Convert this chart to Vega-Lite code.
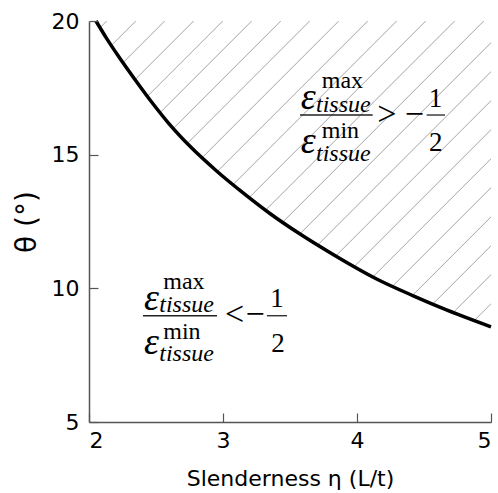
{
  "$schema": "https://vega.github.io/schema/vega-lite/v6.json",
  "width": 402,
  "height": 401,
  "autosize": "none",
  "padding": {"left": 89, "top": 21, "right": 7, "bottom": 71},
  "background": "white",
  "config": {
    "view": {"stroke": null},
    "axis": {
      "zindex": 1,
      "grid": false,
      "domainColor": "#555555",
      "domainWidth": 1.5,
      "tickColor": "#555555",
      "tickWidth": 1.2,
      "labelFont": "DejaVu Sans",
      "labelFontSize": 22,
      "labelColor": "black",
      "titleFont": "DejaVu Sans",
      "titleFontSize": 22,
      "titleFontWeight": "normal",
      "titleColor": "black"
    }
  },
  "datasets": {
    "hatch": [
      {"x1": -0.860, "y1": 5, "x2": 2.132, "y2": 20},
      {"x1": -0.643, "y1": 5, "x2": 2.349, "y2": 20},
      {"x1": -0.427, "y1": 5, "x2": 2.565, "y2": 20},
      {"x1": -0.211, "y1": 5, "x2": 2.781, "y2": 20},
      {"x1": 0.006, "y1": 5, "x2": 2.998, "y2": 20},
      {"x1": 0.222, "y1": 5, "x2": 3.214, "y2": 20},
      {"x1": 0.439, "y1": 5, "x2": 3.431, "y2": 20},
      {"x1": 0.655, "y1": 5, "x2": 3.647, "y2": 20},
      {"x1": 0.872, "y1": 5, "x2": 3.864, "y2": 20},
      {"x1": 1.088, "y1": 5, "x2": 4.080, "y2": 20},
      {"x1": 1.304, "y1": 5, "x2": 4.296, "y2": 20},
      {"x1": 1.521, "y1": 5, "x2": 4.513, "y2": 20},
      {"x1": 1.737, "y1": 5, "x2": 4.729, "y2": 20},
      {"x1": 1.954, "y1": 5, "x2": 4.946, "y2": 20},
      {"x1": 2.170, "y1": 5, "x2": 5.162, "y2": 20},
      {"x1": 2.386, "y1": 5, "x2": 5.378, "y2": 20},
      {"x1": 2.603, "y1": 5, "x2": 5.595, "y2": 20},
      {"x1": 2.819, "y1": 5, "x2": 5.811, "y2": 20},
      {"x1": 3.036, "y1": 5, "x2": 6.028, "y2": 20},
      {"x1": 3.252, "y1": 5, "x2": 6.244, "y2": 20},
      {"x1": 3.469, "y1": 5, "x2": 6.461, "y2": 20},
      {"x1": 3.685, "y1": 5, "x2": 6.677, "y2": 20},
      {"x1": 3.901, "y1": 5, "x2": 6.893, "y2": 20},
      {"x1": 4.118, "y1": 5, "x2": 7.110, "y2": 20},
      {"x1": 4.334, "y1": 5, "x2": 7.326, "y2": 20}
    ],
    "curve": [
      {"eta": 2.052, "theta": 20.0},
      {"eta": 2.13, "theta": 19.36},
      {"eta": 2.22, "theta": 18.68},
      {"eta": 2.34, "theta": 17.83},
      {"eta": 2.47, "theta": 16.95},
      {"eta": 2.59, "theta": 16.2},
      {"eta": 2.75, "theta": 15.33},
      {"eta": 2.95, "theta": 14.40},
      {"eta": 3.15, "theta": 13.57},
      {"eta": 3.35, "theta": 12.8},
      {"eta": 3.575, "theta": 12.03},
      {"eta": 3.8, "theta": 11.33},
      {"eta": 4.15, "theta": 10.34},
      {"eta": 4.42, "theta": 9.72},
      {"eta": 4.64, "theta": 9.25},
      {"eta": 5.0, "theta": 8.56}
    ],
    "mask": [
      {"eta": 2.0, "theta": 20.0},
      {"eta": 2.052, "theta": 20.0},
      {"eta": 2.13, "theta": 19.36},
      {"eta": 2.22, "theta": 18.68},
      {"eta": 2.34, "theta": 17.83},
      {"eta": 2.47, "theta": 16.95},
      {"eta": 2.59, "theta": 16.2},
      {"eta": 2.75, "theta": 15.33},
      {"eta": 2.95, "theta": 14.40},
      {"eta": 3.15, "theta": 13.57},
      {"eta": 3.35, "theta": 12.8},
      {"eta": 3.575, "theta": 12.03},
      {"eta": 3.8, "theta": 11.33},
      {"eta": 4.15, "theta": 10.34},
      {"eta": 4.42, "theta": 9.72},
      {"eta": 4.64, "theta": 9.25},
      {"eta": 5.0, "theta": 8.56}
    ],
    "bars": [
      {"group": "upper", "x": 3.575, "x2": 4.117, "y": 16.483},
      {"group": "upper", "x": 4.520, "x2": 4.657, "y": 16.483},
      {"group": "lower", "x": 2.403, "x2": 2.955, "y": 8.975},
      {"group": "lower", "x": 3.328, "x2": 3.478, "y": 8.975}
    ],
    "labels": [
      {"group": "upper", "role": "eps", "x": 3.580, "y": 16.71, "text": "ε"},
      {"group": "upper", "role": "sup", "x": 3.737, "y": 17.49, "text": "max"},
      {"group": "upper", "role": "sub", "x": 3.694, "y": 16.61, "text": "tissue"},
      {"group": "upper", "role": "sup", "x": 3.737, "y": 15.62, "text": "min"},
      {"group": "upper", "role": "eps", "x": 3.580, "y": 15.06, "text": "ε"},
      {"group": "upper", "role": "sub", "x": 3.694, "y": 14.78, "text": "tissue"},
      {"group": "upper", "role": "op", "x": 4.222, "y": 16.12, "text": ">"},
      {"group": "upper", "role": "op", "x": 4.428, "y": 16.12, "text": "−"},
      {"group": "upper", "role": "digit", "x": 4.585, "y": 16.80, "text": "1"},
      {"group": "upper", "role": "digit", "x": 4.588, "y": 15.12, "text": "2"},
      {"group": "lower", "role": "eps", "x": 2.411, "y": 9.20, "text": "ε"},
      {"group": "lower", "role": "sup", "x": 2.554, "y": 9.99, "text": "max"},
      {"group": "lower", "role": "sub", "x": 2.524, "y": 9.10, "text": "tissue"},
      {"group": "lower", "role": "sup", "x": 2.554, "y": 8.12, "text": "min"},
      {"group": "lower", "role": "eps", "x": 2.411, "y": 7.55, "text": "ε"},
      {"group": "lower", "role": "sub", "x": 2.524, "y": 7.27, "text": "tissue"},
      {"group": "lower", "role": "op", "x": 3.086, "y": 8.62, "text": "<"},
      {"group": "lower", "role": "op", "x": 3.239, "y": 8.62, "text": "−"},
      {"group": "lower", "role": "digit", "x": 3.403, "y": 9.30, "text": "1"},
      {"group": "lower", "role": "digit", "x": 3.410, "y": 7.62, "text": "2"}
    ]
  },
  "layer": [
    {
      "data": {"name": "hatch"},
      "mark": {"type": "rule", "clip": true, "color": "#9a9a9a", "strokeWidth": 0.9},
      "encoding": {
        "x": {
          "field": "x1", "type": "quantitative",
          "scale": {"domain": [2, 5], "nice": false, "zero": false},
          "axis": {
            "orient": "bottom",
            "zindex": 2,
            "grid": false,
            "title": "Slenderness η (L/t)",
            "values": [2, 3, 4, 5],
            "format": "d",
            "tickSize": -9,
            "labelPadding": 17,
            "titlePadding": 17
          }
        },
        "y": {
          "field": "y1", "type": "quantitative",
          "scale": {"domain": [5, 20], "nice": false, "zero": false},
          "axis": {
            "orient": "left",
            "zindex": 2,
            "grid": false,
            "title": "θ (°)",
            "titleFontSize": 28,
            "values": [5, 10, 15, 20],
            "format": "d",
            "tickSize": -9,
            "labelPadding": 19,
            "titlePadding": 10
          }
        },
        "x2": {"field": "x2"},
        "y2": {"field": "y2"}
      }
    },
    {
      "data": {"name": "mask"},
      "mark": {"type": "area", "clip": true, "color": "white", "opacity": 1, "interpolate": "monotone"},
      "encoding": {
        "x": {"field": "eta", "type": "quantitative"},
        "y": {"field": "theta", "type": "quantitative"},
        "y2": {"datum": 5}
      }
    },
    {
      "data": {"name": "curve"},
      "mark": {"type": "line", "color": "black", "strokeWidth": 3.5, "interpolate": "monotone"},
      "encoding": {
        "x": {"field": "eta", "type": "quantitative"},
        "y": {"field": "theta", "type": "quantitative"}
      }
    },
    {
      "data": {"name": "bars"},
      "mark": {"type": "rule", "color": "#222222", "strokeWidth": 1.3},
      "encoding": {
        "x": {"field": "x", "type": "quantitative"},
        "x2": {"field": "x2"},
        "y": {"field": "y", "type": "quantitative"}
      }
    },
    {
      "data": {"name": "labels"},
      "transform": [{"filter": "datum.role === 'eps'"}],
      "mark": {"type": "text", "font": "Liberation Serif", "fontStyle": "italic", "fontSize": 38, "align": "left", "baseline": "alphabetic", "color": "black"},
      "encoding": {
        "x": {"field": "x", "type": "quantitative"},
        "y": {"field": "y", "type": "quantitative"},
        "text": {"field": "text"}
      }
    },
    {
      "data": {"name": "labels"},
      "transform": [{"filter": "datum.role === 'sup'"}],
      "mark": {"type": "text", "font": "Liberation Serif", "fontSize": 24, "align": "left", "baseline": "alphabetic", "color": "black"},
      "encoding": {
        "x": {"field": "x", "type": "quantitative"},
        "y": {"field": "y", "type": "quantitative"},
        "text": {"field": "text"}
      }
    },
    {
      "data": {"name": "labels"},
      "transform": [{"filter": "datum.role === 'sub'"}],
      "mark": {"type": "text", "font": "Liberation Serif", "fontStyle": "italic", "fontSize": 24, "align": "left", "baseline": "alphabetic", "color": "black"},
      "encoding": {
        "x": {"field": "x", "type": "quantitative"},
        "y": {"field": "y", "type": "quantitative"},
        "text": {"field": "text"}
      }
    },
    {
      "data": {"name": "labels"},
      "transform": [{"filter": "datum.role === 'op'"}],
      "mark": {"type": "text", "font": "Liberation Serif", "fontSize": 34, "align": "center", "baseline": "alphabetic", "color": "black"},
      "encoding": {
        "x": {"field": "x", "type": "quantitative"},
        "y": {"field": "y", "type": "quantitative"},
        "text": {"field": "text"}
      }
    },
    {
      "data": {"name": "labels"},
      "transform": [{"filter": "datum.role === 'digit'"}],
      "mark": {"type": "text", "font": "Liberation Serif", "fontSize": 27, "align": "center", "baseline": "alphabetic", "color": "black"},
      "encoding": {
        "x": {"field": "x", "type": "quantitative"},
        "y": {"field": "y", "type": "quantitative"},
        "text": {"field": "text"}
      }
    }
  ]
}
